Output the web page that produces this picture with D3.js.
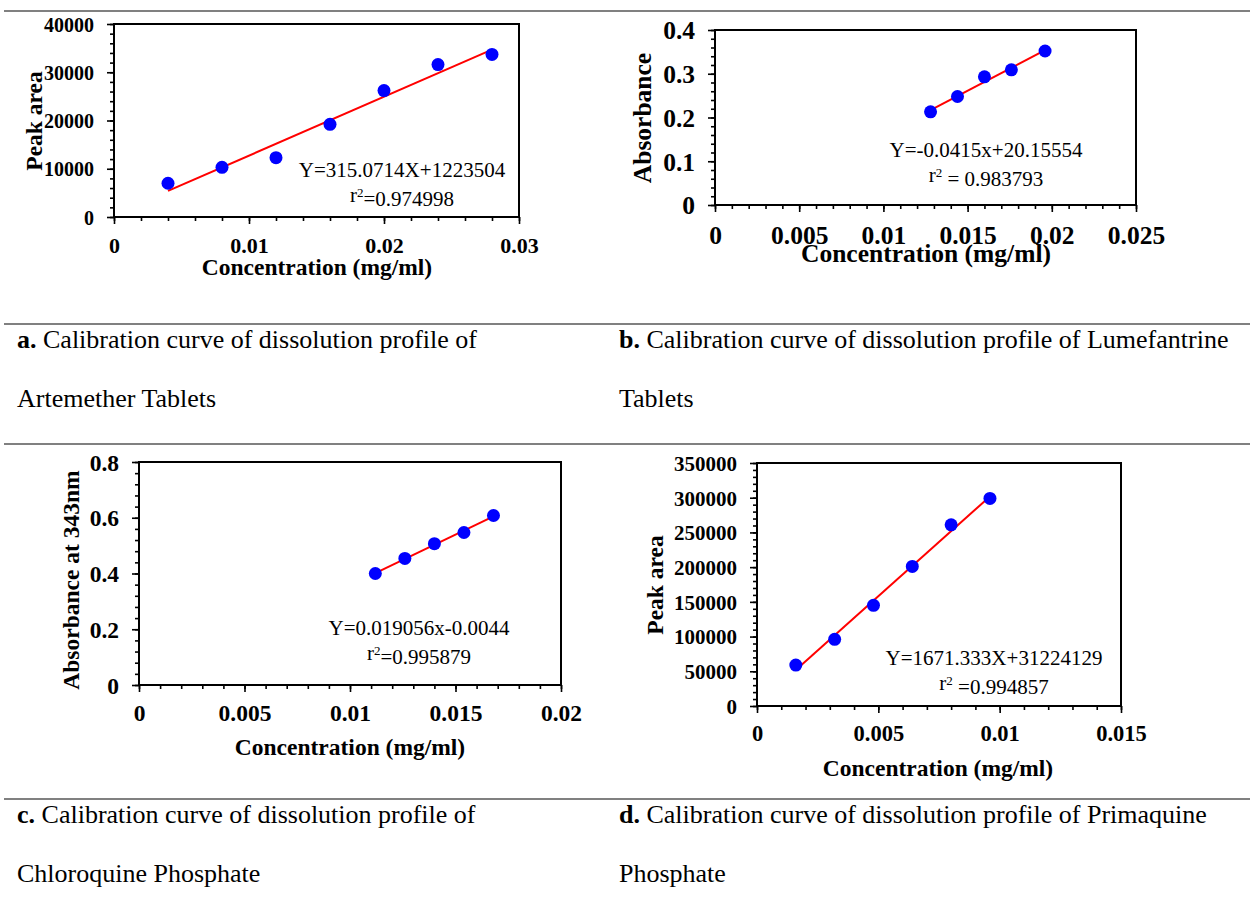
<!DOCTYPE html>
<html>
<head>
<meta charset="utf-8">
<script src="https://cdn.jsdelivr.net/npm/d3@7"></script>
<style>
  body { margin: 0; background: #fff; }
  svg { display: block; font-family: "Liberation Serif", "Times New Roman", serif; }
</style>
</head>
<body>
<svg width="1250" height="913"></svg>
<script>
// a. Artemether
const concA = [0.004, 0.008, 0.012, 0.016, 0.020, 0.024, 0.028]
const areaA = [7000, 10300, 12300, 19200, 26200, 31600, 33700]
const xTicksA = [0, 0.01, 0.02, 0.03]
const yTicksA = [0, 10000, 20000, 30000, 40000]

// b. Lumefantrine
const concB = [0.0128, 0.0144, 0.016, 0.0176, 0.0196]
const absB = [0.213, 0.248, 0.293, 0.309, 0.352]
const xTicksB = [0, 0.005, 0.01, 0.015, 0.02, 0.025]
const yTicksB = [0, 0.1, 0.2, 0.3, 0.4]

// c. Chloroquine phosphate
const concC = [0.0112, 0.0126, 0.014, 0.0154, 0.0168]
const absC = [0.400, 0.454, 0.507, 0.547, 0.608]
const xTicksC = [0, 0.005, 0.01, 0.015, 0.02]
const yTicksC = [0, 0.2, 0.4, 0.6, 0.8]

// d. Primaquine phosphate
const concD = [0.0016, 0.0032, 0.0048, 0.0064, 0.008, 0.0096]
const areaD = [59000, 96000, 145000, 201000, 261000, 299000]
const xTicksD = [0, 0.005, 0.01, 0.015]
const yTicksD = [0, 50000, 100000, 150000, 200000, 250000, 300000, 350000]

const equations = [
  ["Y=315.0714X+1223504", "=0.974998"],
  ["Y=-0.0415x+20.15554", " = 0.983793"],
  ["Y=0.019056x-0.0044", "=0.995879"],
  ["Y=1671.333X+31224129", " =0.994857"]
]

const captions = [
  ["a.", " Calibration curve of dissolution profile of", "Artemether Tablets"],
  ["b.", " Calibration curve of dissolution profile of Lumefantrine", "Tablets"],
  ["c.", " Calibration curve of dissolution profile of", "Chloroquine Phosphate"],
  ["d.", " Calibration curve of dissolution profile of Primaquine", "Phosphate"]
]

const yTitles = ["Peak area", "Absorbance", "Absorbance at 343nm", "Peak area"]

// layout of each panel
const panels = [
  {x: concA, y: areaA, xt: xTicksA, yt: yTicksA, xMinor: 0.002, yMinor: 2000,
   box: [114, 519, 24, 217], xFs: 22, yFs: 20, titleFs: 23.5, xOff: 28,
   xTitle: [317, 267], yTitle: [34, 121], eq: [402, 170, 195]},
  {x: concB, y: absB, xt: xTicksB, yt: yTicksB, xMinor: 0.001, yMinor: 0.02,
   box: [715, 1136, 30, 205], xFs: 25.5, yFs: 25.5, titleFs: 25.5, xOff: 30,
   xTitle: [926, 253], yTitle: [642, 118], eq: [986, 150, 175]},
  {x: concC, y: absC, xt: xTicksC, yt: yTicksC, xMinor: 0.001, yMinor: 0.04,
   box: [139, 561, 462, 685], xFs: 23.5, yFs: 23.5, titleFs: 23.5, xOff: 28,
   xTitle: [350, 747], yTitle: [71, 580], eq: [419, 628, 653]},
  {x: concD, y: areaD, xt: xTicksD, yt: yTicksD, xMinor: 0.001, yMinor: 10000,
   box: [757, 1121, 463, 706], xFs: 22.5, yFs: 21, titleFs: 23.5, xOff: 27,
   xTitle: [938, 768], yTitle: [655, 585], eq: [994, 658, 683]}
]

const svg = d3.select("svg")

// horizontal rules of the table
const rules = [11, 324, 444, 799]
svg.selectAll("line.rule")
  .data(rules)
  .join("line")
  .attr("class", "rule")
  .attr("x1", 4).attr("x2", 1250)
  .attr("y1", d => d).attr("y2", d => d)
  .attr("stroke", "#808080")
  .attr("stroke-width", 2)

const range = (a, b, step) => d3.range(Math.round((b - a) / step) + 1).map(i => +(a + i * step).toFixed(6))

// least squares line through the points
const fit = (xs, ys) => {
  const mx = d3.mean(xs), my = d3.mean(ys)
  const sxy = d3.sum(xs, (x, i) => (x - mx) * (ys[i] - my))
  const sxx = d3.sum(xs, x => (x - mx) * (x - mx))
  const m = sxy / sxx
  return x => my + m * (x - mx)
}

panels.forEach((p, k) => {
  const [x0, x1, y0, y1] = p.box
  const xs = d3.scaleLinear().domain(d3.extent(p.xt)).range([x0, x1])
  const ys = d3.scaleLinear().domain(d3.extent(p.yt)).range([y1, y0])
  const g = svg.append("g")

  // minor ticks
  g.append("g")
    .attr("transform", `translate(0,${y1})`)
    .call(d3.axisBottom(xs).tickValues(range(xs.domain()[0], xs.domain()[1], p.xMinor)).tickSize(4).tickFormat(""))
  g.append("g")
    .attr("transform", `translate(${x0},0)`)
    .call(d3.axisLeft(ys).tickValues(range(ys.domain()[0], ys.domain()[1], p.yMinor)).tickSize(4).tickFormat(""))

  // major ticks
  g.append("g")
    .attr("class", "xaxis")
    .attr("transform", `translate(0,${y1})`)
    .call(d3.axisBottom(xs).tickValues(p.xt).tickSize(7).tickPadding(0).tickFormat(d => String(d)))
  g.append("g")
    .attr("class", "yaxis")
    .attr("transform", `translate(${x0},0)`)
    .call(d3.axisLeft(ys).tickValues(p.yt).tickSize(7).tickPadding(0).tickFormat(d => String(d)))

  g.selectAll(".domain").remove()
  g.selectAll(".tick line").attr("stroke", "#000").attr("stroke-width", 1.6)
  g.selectAll(".tick text")
    .attr("fill", "#000")
    .style("font-family", "'Liberation Serif', 'Times New Roman', serif")
    .style("font-weight", "bold")
  g.selectAll(".xaxis text")
    .attr("y", p.xOff).attr("dy", "0.35em")
    .style("font-size", p.xFs + "px")
  g.selectAll(".yaxis text")
    .attr("x", -20).attr("dy", "0.35em")
    .style("font-size", p.yFs + "px")

  // frame
  g.append("rect")
    .attr("x", x0).attr("y", y0)
    .attr("width", x1 - x0).attr("height", y1 - y0)
    .attr("fill", "none")
    .attr("stroke", "#000")
    .attr("stroke-width", 2)

  // trend line
  const f = fit(p.x, p.y)
  const ends = d3.extent(p.x)
  g.append("line")
    .attr("x1", xs(ends[0])).attr("y1", ys(f(ends[0])))
    .attr("x2", xs(ends[1])).attr("y2", ys(f(ends[1])))
    .attr("stroke", "#ff0000")
    .attr("stroke-width", 2)

  // points
  g.selectAll("circle")
    .data(p.x.map((x, i) => [x, p.y[i]]))
    .join("circle")
    .attr("cx", d => xs(d[0]))
    .attr("cy", d => ys(d[1]))
    .attr("r", 6.5)
    .attr("fill", "#0000ff")

  // axis titles
  g.append("text")
    .attr("x", p.xTitle[0]).attr("y", p.xTitle[1])
    .attr("dy", "0.35em")
    .attr("text-anchor", "middle")
    .style("font-weight", "bold")
    .style("font-size", p.titleFs + "px")
    .text("Concentration (mg/ml)")
  g.append("text")
    .attr("transform", `translate(${p.yTitle[0]},${p.yTitle[1]}) rotate(-90)`)
    .attr("dy", "0.35em")
    .attr("text-anchor", "middle")
    .style("font-weight", "bold")
    .style("font-size", p.titleFs + "px")
    .text(yTitles[k])

  // equation
  const eq = g.append("g").style("font-size", "21px")
  eq.append("text")
    .attr("x", p.eq[0]).attr("y", p.eq[1])
    .attr("dy", "0.35em")
    .attr("text-anchor", "middle")
    .text(equations[k][0])
  const r2 = eq.append("text")
    .attr("x", p.eq[0]).attr("y", p.eq[2])
    .attr("dy", "0.35em")
    .attr("text-anchor", "middle")
  r2.append("tspan").text("r")
  r2.append("tspan").attr("dy", "-0.45em").style("font-size", "13px").text("2")
  r2.append("tspan").attr("dy", "0.45em").text(equations[k][1])
})

// captions
const capPos = [[17, 348, 407], [619, 348, 407], [17, 823, 882], [619, 823, 882]]
captions.forEach((c, k) => {
  const [x, yA, yB] = capPos[k]
  const t = svg.append("text").attr("x", x).attr("y", yA).style("font-size", "26px")
  t.append("tspan").style("font-weight", "bold").text(c[0])
  t.append("tspan").text(c[1])
  svg.append("text").attr("x", x).attr("y", yB).style("font-size", "26px").text(c[2])
})
</script>
</body>
</html>
